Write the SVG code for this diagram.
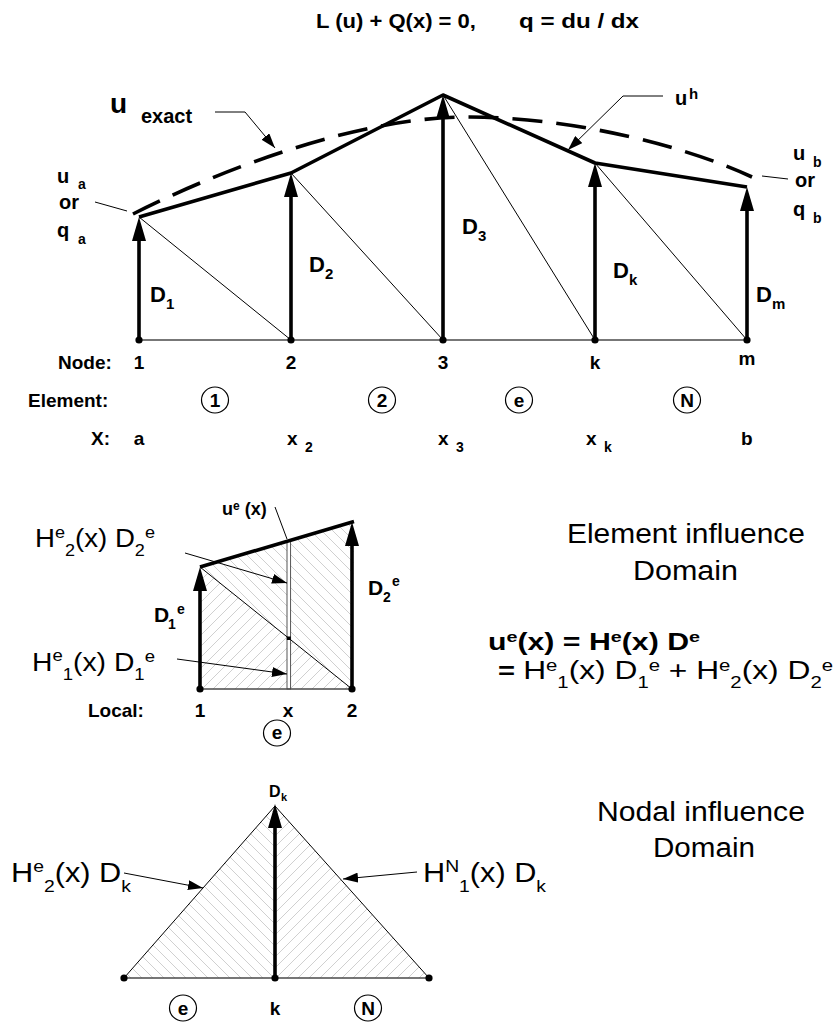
<svg xmlns="http://www.w3.org/2000/svg" width="835" height="1025" viewBox="0 0 835 1025">
<defs>
<style>
.b{font-family:"Liberation Sans",Arial,Helvetica,sans-serif;font-weight:bold;fill:#000}
.r{font-family:"Liberation Sans",Arial,Helvetica,sans-serif;font-weight:normal;fill:#000}
.thick{stroke:#000;stroke-width:3.6;fill:none;stroke-linejoin:round}
.vec{stroke:#000;stroke-width:3.6;fill:none}
.thin{stroke:#000;stroke-width:1;fill:none}
.base{stroke:#4a4a4a;stroke-width:1.7;fill:none}
.circ{fill:none;stroke:#000;stroke-width:1.2}
.dash{stroke:#000;stroke-width:3.6;fill:none;stroke-dasharray:30 14}
.hatch{stroke:none}
</style>
<marker id="ah" markerUnits="userSpaceOnUse" markerWidth="24" markerHeight="14" viewBox="0 0 24 14" refX="0" refY="7" orient="auto"><path d="M0,0 L24,7 L0,14 z" fill="#000"/></marker>
<marker id="as" markerUnits="userSpaceOnUse" markerWidth="15" markerHeight="10" viewBox="0 0 15 10" refX="15" refY="5" orient="auto"><path d="M0,0 L15,5 L0,10 z" fill="#000"/></marker>
<pattern id="hf" patternUnits="userSpaceOnUse" width="11" height="11"><path d="M0,11 L11,0 M-2,2 L2,-2 M9,13 L13,9" stroke="#c4c4c4" stroke-width="0.8"/></pattern>
<pattern id="hb" patternUnits="userSpaceOnUse" width="11" height="11"><path d="M0,0 L11,11 M-2,9 L2,13 M9,-2 L13,2" stroke="#c4c4c4" stroke-width="0.8"/></pattern>
</defs>
<rect width="835" height="1025" fill="#fff"/>

<g id="title">
<text class="b" x="316" y="28" font-size="21" textLength="160" lengthAdjust="spacingAndGlyphs">L (u) + Q(x) = 0,</text>
<text class="b" x="519" y="28" font-size="21" textLength="120" lengthAdjust="spacingAndGlyphs">q = du / dx</text>
</g>

<g id="mesh">
<path class="dash" d="M133,214 C220,170 360,116 470,117 C580,118 690,148 752,177"/>
<polyline class="thick" points="139,217 291,173 443,95 595,163 747,187"/>
<g id="diagonals">
<line class="thin" x1="139" y1="217" x2="291" y2="340"/>
<line class="thin" x1="291" y1="173" x2="443" y2="340"/>
<line class="thin" x1="443" y1="95" x2="595" y2="340"/>
<line class="thin" x1="595" y1="163" x2="747" y2="340"/>
</g>
<line class="base" x1="139" y1="340" x2="747" y2="340"/>
</g>

<g id="node-1">
<line class="vec" x1="139" y1="340" x2="139" y2="241" marker-end="url(#ah)"/>
<circle cx="139" cy="340" r="3.6"/>
<text class="b" x="150" y="302" font-size="22">D</text><text class="b" x="166" y="309" font-size="15">1</text>
<text class="b" x="139" y="369" font-size="19" text-anchor="middle">1</text>
</g>
<g id="node-2">
<line class="vec" x1="291" y1="340" x2="291" y2="197" marker-end="url(#ah)"/>
<circle cx="291" cy="340" r="3.6"/>
<text class="b" x="309" y="272" font-size="22">D</text><text class="b" x="325" y="279" font-size="15">2</text>
<text class="b" x="291" y="369" font-size="19" text-anchor="middle">2</text>
</g>
<g id="node-3">
<line class="vec" x1="443" y1="340" x2="443" y2="119" marker-end="url(#ah)"/>
<circle cx="443" cy="340" r="3.6"/>
<text class="b" x="462" y="234" font-size="22">D</text><text class="b" x="478" y="241" font-size="15">3</text>
<text class="b" x="443" y="369" font-size="19" text-anchor="middle">3</text>
</g>
<g id="node-k">
<line class="vec" x1="595" y1="340" x2="595" y2="187" marker-end="url(#ah)"/>
<circle cx="595" cy="340" r="3.6"/>
<text class="b" x="613" y="278" font-size="22">D</text><text class="b" x="629" y="285" font-size="15">k</text>
<text class="b" x="595" y="369" font-size="19" text-anchor="middle">k</text>
</g>
<g id="node-m">
<line class="vec" x1="747" y1="340" x2="747" y2="211" marker-end="url(#ah)"/>
<circle cx="747" cy="340" r="3.6"/>
<text class="b" x="756" y="302" font-size="22">D</text><text class="b" x="772" y="309" font-size="15">m</text>
<text class="b" x="747" y="365" font-size="19" text-anchor="middle">m</text>
</g>

<g id="labels-top">
<text class="b" x="110" y="113" font-size="28">u</text>
<text class="b" x="141" y="123" font-size="20">exact</text>
<text class="b" x="675" y="105" font-size="20">u</text><text class="b" x="689" y="99" font-size="15">h</text>
<text class="b" x="57" y="183" font-size="20">u</text><text class="b" x="78" y="189" font-size="14">a</text>
<text class="b" x="59" y="209" font-size="20">or</text>
<text class="b" x="57" y="237" font-size="20">q</text><text class="b" x="78" y="244" font-size="14">a</text>
<text class="b" x="793" y="160" font-size="20">u</text><text class="b" x="813" y="167" font-size="14">b</text>
<text class="b" x="795" y="187" font-size="20">or</text>
<text class="b" x="793" y="216" font-size="20">q</text><text class="b" x="813" y="223" font-size="14">b</text>
</g>

<g id="rows">
<text class="b" x="58" y="369" font-size="19">Node:</text>
<text class="b" x="28" y="407" font-size="19">Element:</text>
<g id="el-1"><ellipse class="circ" cx="215" cy="400" rx="13.5" ry="13"/><text class="b" x="215" y="407" font-size="19" text-anchor="middle">1</text></g>
<g id="el-2"><ellipse class="circ" cx="382" cy="400" rx="13.5" ry="13"/><text class="b" x="382" y="407" font-size="19" text-anchor="middle">2</text></g>
<g id="el-e"><ellipse class="circ" cx="519" cy="400" rx="13.5" ry="13"/><text class="b" x="519" y="407" font-size="19" text-anchor="middle">e</text></g>
<g id="el-N"><ellipse class="circ" cx="687" cy="400" rx="13.5" ry="13"/><text class="b" x="687" y="407" font-size="19" text-anchor="middle">N</text></g>
<text class="b" x="91" y="445" font-size="19">X:</text>
<text class="b" x="139" y="445" font-size="19" text-anchor="middle">a</text>
<text class="b" x="287" y="445" font-size="19">x</text><text class="b" x="305" y="452" font-size="14">2</text>
<text class="b" x="438" y="445" font-size="19">x</text><text class="b" x="456" y="452" font-size="14">3</text>
<text class="b" x="586" y="445" font-size="19">x</text><text class="b" x="604" y="452" font-size="14">k</text>
<text class="b" x="741" y="445" font-size="19">b</text>
</g>

<g id="element">
<polygon class="hatch" points="200,567 200,689 352,689" fill="url(#hf)"/>
<polygon class="hatch" points="200,567 354,521.5 352,689" fill="url(#hb)"/>
<rect x="287" y="541" width="3.6" height="148" fill="#fff" stroke="#444" stroke-width="0.9"/>
<line class="thin" x1="200" y1="567" x2="352" y2="689"/>
<rect x="286.8" y="636.5" width="4" height="3.5" fill="#000"/>
<line class="thick" x1="200" y1="567" x2="354" y2="521.5"/>
<line class="base" x1="200" y1="689" x2="352" y2="689"/>
<line class="vec" x1="200" y1="689" x2="200" y2="591" marker-end="url(#ah)"/>
<line class="vec" x1="352" y1="689" x2="352" y2="546" marker-end="url(#ah)"/>
<circle cx="200" cy="689" r="3.6"/>
<circle cx="352" cy="689" r="3.6"/>
<text class="b" x="222" y="515" font-size="18">u<tspan font-size="12" dy="-5">e</tspan><tspan dy="5"> (x)</tspan></text>
<text class="b" x="154" y="622" font-size="21">D</text><text class="b" x="168" y="629" font-size="14">1</text><text class="b" x="177" y="614" font-size="14">e</text>
<text class="b" x="368" y="595" font-size="21">D</text><text class="b" x="383" y="602" font-size="14">2</text><text class="b" x="392" y="586" font-size="14">e</text>
<text class="r" x="35" y="547" font-size="26" textLength="120" lengthAdjust="spacingAndGlyphs">H<tspan font-size="17" dy="-9">e</tspan><tspan font-size="17" dy="18">2</tspan><tspan dy="-9">(x) D</tspan><tspan font-size="17" dy="9">2</tspan><tspan font-size="17" dy="-18">e</tspan></text>
<text class="r" x="32" y="671" font-size="26" textLength="123" lengthAdjust="spacingAndGlyphs">H<tspan font-size="17" dy="-10">e</tspan><tspan font-size="17" dy="19">1</tspan><tspan dy="-9">(x) D</tspan><tspan font-size="17" dy="9">1</tspan><tspan font-size="17" dy="-18">e</tspan></text>
<text class="b" x="88" y="717" font-size="19">Local:</text>
<text class="b" x="200" y="717" font-size="19" text-anchor="middle">1</text>
<text class="b" x="288" y="717" font-size="19" text-anchor="middle">x</text>
<text class="b" x="352" y="717" font-size="19" text-anchor="middle">2</text>
<ellipse class="circ" cx="277" cy="733" rx="13.5" ry="13"/><text class="b" x="277" y="739" font-size="19" text-anchor="middle">e</text>
</g>

<g id="element-text">
<text class="r" x="567" y="543" font-size="27" textLength="238" lengthAdjust="spacingAndGlyphs">Element influence</text>
<text class="r" x="633" y="580" font-size="27" textLength="105" lengthAdjust="spacingAndGlyphs">Domain</text>
<text class="b" x="488" y="650" font-size="23" textLength="212" lengthAdjust="spacingAndGlyphs">u<tspan font-size="15" dy="-8">e</tspan><tspan dy="8">(x) = H</tspan><tspan font-size="15" dy="-8">e</tspan><tspan dy="8">(x) D</tspan><tspan font-size="15" dy="-8">e</tspan></text>
<text class="r" x="498" y="679" font-size="25" textLength="335" lengthAdjust="spacingAndGlyphs"><tspan class="b" font-size="23">= </tspan>H<tspan font-size="16" dy="-8">e</tspan><tspan font-size="16" dy="17">1</tspan><tspan dy="-9">(x) D</tspan><tspan font-size="16" dy="9">1</tspan><tspan font-size="16" dy="-17">e</tspan><tspan dy="8"> + H</tspan><tspan font-size="16" dy="-8">e</tspan><tspan font-size="16" dy="17">2</tspan><tspan dy="-9">(x) D</tspan><tspan font-size="16" dy="9">2</tspan><tspan font-size="16" dy="-17">e</tspan></text>
</g>

<g id="nodal">
<polygon class="hatch" points="124,978 275,806 275,978" fill="url(#hb)"/>
<polygon class="hatch" points="275,806 429,978 275,978" fill="url(#hf)"/>
<polyline class="thin" points="124,978 275,806 429,978"/>
<line class="base" x1="124" y1="978" x2="429" y2="978"/>
<line class="vec" x1="275" y1="978" x2="275" y2="828" marker-end="url(#ah)"/>
<circle cx="124" cy="978" r="3.6"/>
<circle cx="275" cy="978" r="3.6"/>
<circle cx="429" cy="978" r="3.6"/>
<text class="b" x="269" y="797" font-size="16">D</text><text class="b" x="281" y="801" font-size="11">k</text>
<text class="r" x="11" y="882" font-size="27" textLength="120" lengthAdjust="spacingAndGlyphs">H<tspan font-size="17" dy="-10">e</tspan><tspan font-size="17" dy="20">2</tspan><tspan dy="-10">(x) D</tspan><tspan font-size="17" dy="10">k</tspan></text>
<text class="r" x="423" y="882" font-size="27" textLength="123" lengthAdjust="spacingAndGlyphs">H<tspan font-size="17" dy="-10">N</tspan><tspan font-size="17" dy="20">1</tspan><tspan dy="-10">(x) D</tspan><tspan font-size="17" dy="10">k</tspan></text>
<ellipse class="circ" cx="183" cy="1008" rx="13.5" ry="13"/><text class="b" x="183" y="1015" font-size="19" text-anchor="middle">e</text>
<text class="b" x="275" y="1015" font-size="19" text-anchor="middle">k</text>
<ellipse class="circ" cx="368" cy="1008" rx="13.5" ry="13"/><text class="b" x="368" y="1015" font-size="19" text-anchor="middle">N</text>
<text class="r" x="597" y="821" font-size="27" textLength="208" lengthAdjust="spacingAndGlyphs">Nodal influence</text>
<text class="r" x="653" y="857" font-size="27" textLength="102" lengthAdjust="spacingAndGlyphs">Domain</text>
</g>

<g id="connectors">
<polyline class="thin" points="215,112 245,112 275,148" marker-end="url(#as)"/>
<polyline class="thin" points="663,96 623,96 568,150" marker-end="url(#as)"/>
<line class="thin" x1="95" y1="202" x2="127" y2="211"/>
<line class="thin" x1="762" y1="176" x2="788" y2="179"/>
<line class="thin" x1="275" y1="507" x2="287" y2="539"/>
<line class="thin" x1="185" y1="553" x2="287" y2="583" marker-end="url(#as)"/>
<line class="thin" x1="177" y1="659" x2="287" y2="674" marker-end="url(#as)"/>
<line class="thin" x1="124" y1="873" x2="203" y2="888" marker-end="url(#as)"/>
<line class="thin" x1="417" y1="872" x2="343" y2="879" marker-end="url(#as)"/>
</g>
</svg>
